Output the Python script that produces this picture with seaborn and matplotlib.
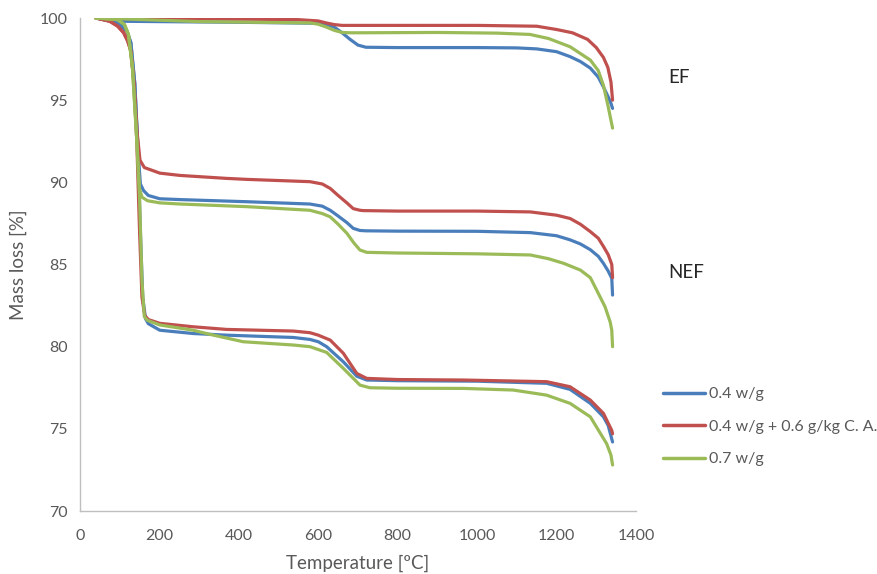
import numpy as np
import pandas as pd
import matplotlib
matplotlib.use("Agg")
import matplotlib.pyplot as plt
import seaborn as sns

# ---------------- data ----------------
series_names = ["0.4 w/g", "0.4 w/g + 0.6 g/kg C. A.", "0.7 w/g"]
series_colors = ["#4A7EBB", "#C0504D", "#9BBB59"]

# EF group
ef_blue_T = [40, 80, 110, 200, 400, 600, 620, 640, 660, 680, 700, 720, 800, 1000, 1100, 1150, 1200, 1234, 1260, 1285, 1305, 1318, 1330, 1337, 1341]
ef_blue_M = [100, 99.9, 99.8, 99.78, 99.74, 99.68, 99.62, 99.45, 99.1, 98.7, 98.35, 98.22, 98.2, 98.2, 98.18, 98.12, 97.95, 97.65, 97.35, 96.95, 96.4, 95.8, 95.2, 94.8, 94.5]
ef_red_T = [40, 100, 300, 550, 600, 620, 640, 660, 700, 1000, 1150, 1200, 1240, 1278, 1300, 1318, 1329, 1337, 1341]
ef_red_M = [100, 99.97, 99.95, 99.9, 99.82, 99.7, 99.6, 99.55, 99.55, 99.55, 99.5, 99.3, 99.1, 98.7, 98.2, 97.6, 97.0, 96.1, 95.0]
ef_green_T = [40, 100, 300, 580, 600, 620, 640, 660, 680, 700, 900, 1050, 1133, 1180, 1234, 1285, 1305, 1318, 1330, 1341]
ef_green_M = [100, 99.95, 99.78, 99.7, 99.62, 99.45, 99.25, 99.12, 99.1, 99.1, 99.12, 99.08, 99.0, 98.75, 98.25, 97.44, 96.8, 95.9, 94.6, 93.3]

# NEF group
nef_blue_T = [40, 80, 100, 118, 128, 138, 146, 152, 160, 172, 201, 252, 420, 579, 610, 630, 650, 672, 688, 705, 720, 800, 1000, 1134, 1200, 1234, 1260, 1285, 1305, 1318, 1330, 1339, 1341]
nef_blue_M = [100, 99.8, 99.6, 99.2, 98.5, 96.0, 92.0, 89.9, 89.5, 89.2, 89.0, 88.95, 88.82, 88.68, 88.55, 88.3, 87.95, 87.55, 87.2, 87.07, 87.05, 87.03, 87.02, 86.94, 86.75, 86.5, 86.25, 85.9, 85.5, 85.07, 84.6, 84.16, 83.14]
nef_red_T = [40, 75, 95, 110, 120, 128, 136, 144, 151, 162, 201, 252, 369, 420, 579, 610, 630, 650, 672, 688, 705, 713, 800, 1000, 1134, 1200, 1234, 1260, 1285, 1305, 1318, 1330, 1339, 1341]
nef_red_M = [100, 99.8, 99.5, 99.1, 98.6, 98.0, 96.0, 93.0, 91.35, 90.9, 90.56, 90.42, 90.24, 90.18, 90.04, 89.9, 89.63, 89.2, 88.75, 88.4, 88.3, 88.28, 88.25, 88.25, 88.2, 88.0, 87.8, 87.45, 87.0, 86.6, 86.1, 85.6, 85.0, 84.2]
nef_green_T = [40, 95, 112, 122, 132, 142, 150, 156, 170, 201, 252, 420, 579, 610, 630, 650, 672, 690, 705, 722, 800, 1000, 1134, 1180, 1218, 1260, 1285, 1301, 1322, 1335, 1339, 1341]
nef_green_M = [100, 99.9, 99.6, 99.0, 97.0, 93.0, 89.6, 89.1, 88.88, 88.75, 88.68, 88.52, 88.3, 88.1, 87.9, 87.45, 86.9, 86.3, 85.88, 85.74, 85.7, 85.65, 85.58, 85.35, 85.07, 84.66, 84.2, 83.44, 82.43, 81.5, 81.0, 80.0]

# bottom group
low_blue_T = [40, 80, 100, 118, 128, 138, 146, 152, 158, 165, 172, 201, 285, 369, 537, 579, 600, 621, 663, 697, 722, 800, 1000, 1175, 1234, 1285, 1318, 1330, 1341]
low_blue_M = [100, 99.8, 99.6, 99.2, 98.5, 96.0, 92.0, 87.0, 83.0, 81.7, 81.4, 81.0, 80.8, 80.7, 80.56, 80.44, 80.3, 80.0, 79.08, 78.2, 77.97, 77.93, 77.9, 77.77, 77.4, 76.55, 75.73, 75.2, 74.2]
low_red_T = [40, 75, 95, 110, 120, 128, 136, 143, 150, 156, 163, 172, 201, 285, 369, 537, 579, 600, 630, 663, 697, 722, 800, 965, 1175, 1234, 1285, 1318, 1339, 1341]
low_red_M = [100, 99.8, 99.5, 99.1, 98.6, 98.0, 96.0, 92.5, 87.0, 83.0, 81.9, 81.65, 81.42, 81.21, 81.05, 80.95, 80.85, 80.7, 80.4, 79.6, 78.37, 78.07, 78.0, 77.97, 77.87, 77.56, 76.75, 75.94, 74.9, 74.7]
low_green_T = [40, 95, 112, 122, 132, 142, 150, 156, 162, 170, 201, 285, 327, 411, 537, 579, 621, 663, 705, 730, 800, 965, 1091, 1175, 1234, 1285, 1326, 1337, 1341]
low_green_M = [100, 99.9, 99.6, 99.0, 97.0, 93.0, 89.0, 84.0, 81.82, 81.6, 81.32, 81.0, 80.75, 80.3, 80.1, 80.0, 79.65, 78.68, 77.66, 77.5, 77.47, 77.46, 77.36, 77.05, 76.55, 75.73, 74.1, 73.4, 72.8]

x_ticks = [0, 200, 400, 600, 800, 1000, 1200, 1400]
y_ticks = [70, 75, 80, 85, 90, 95, 100]
group_labels = ["EF", "NEF"]

# ---------------- build long table ----------------
curves = [
    ("EF", series_names[0], ef_blue_T, ef_blue_M),
    ("EF", series_names[1], ef_red_T, ef_red_M),
    ("EF", series_names[2], ef_green_T, ef_green_M),
    ("NEF", series_names[0], nef_blue_T, nef_blue_M),
    ("NEF", series_names[1], nef_red_T, nef_red_M),
    ("NEF", series_names[2], nef_green_T, nef_green_M),
    ("LOW", series_names[0], low_blue_T, low_blue_M),
    ("LOW", series_names[1], low_red_T, low_red_M),
    ("LOW", series_names[2], low_green_T, low_green_M),
]
frames = []
for grp, ser, T, M in curves:
    frames.append(pd.DataFrame({"T": T, "M": M, "series": ser, "group": grp}))
df = pd.concat(frames, ignore_index=True)

# ---------------- plot ----------------
sns.set_theme(style="white")
plt.rcParams["font.family"] = ["Lato", "DejaVu Sans"]

W, H = 878, 574
fig = plt.figure(figsize=(W / 100, H / 100), dpi=100)
ax = fig.add_axes([80 / W, 1 - 511 / H, (636 - 80) / W, (511 - 18) / H])

sns.lineplot(data=df, x="T", y="M", hue="series", units="group", estimator=None,
             hue_order=series_names, palette=series_colors, linewidth=2.3,
             sort=False, ax=ax)

ax.set_xlim(0, 1400)
ax.set_ylim(70, 100)
ax.set_xticks(x_ticks)
ax.set_yticks(y_ticks)

grey = "#595959"
axis_grey = "#BFBFBF"
for s in ["top", "right"]:
    ax.spines[s].set_visible(False)
for s in ["left", "bottom"]:
    ax.spines[s].set_color(axis_grey)
    ax.spines[s].set_linewidth(1.0)
ax.tick_params(axis="both", which="major", direction="out", length=5, width=1,
               color=axis_grey, labelcolor=grey, labelsize=11.5, pad=4)
ax.tick_params(axis="x", pad=8)

ax.set_xlabel("Temperature [ºC]", fontsize=13.5, color=grey, labelpad=8)
ax.set_ylabel("Mass loss [%]", fontsize=13.5, color=grey, labelpad=9)

ax.text(1481, 96.4, group_labels[0], fontsize=13.5, color="#262626", va="center", ha="left", clip_on=False)
ax.text(1481, 84.54, group_labels[1], fontsize=13.5, color="#262626", va="center", ha="left", clip_on=False)

leg = ax.legend(loc="upper left", bbox_to_anchor=(663 / W, 1 - 387 / H),
                bbox_transform=fig.transFigure, frameon=False, fontsize=11.5,
                handlelength=2.6, labelspacing=1.15, handletextpad=0.25, borderaxespad=0,
                borderpad=0)
for t in leg.get_texts():
    t.set_color(grey)
for l in leg.get_lines():
    l.set_linewidth(2.5)

fig.savefig("out.png", dpi=100)
